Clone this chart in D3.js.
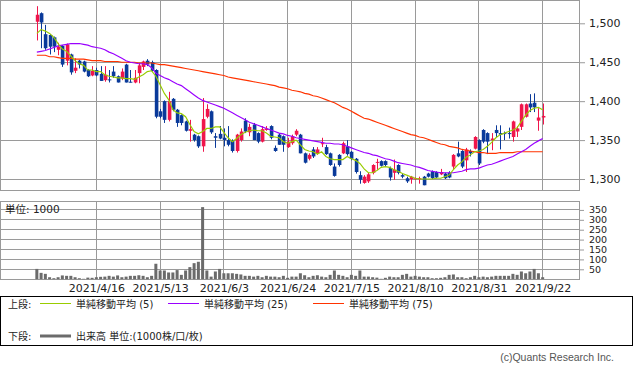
<!DOCTYPE html>
<html>
<head>
<meta charset="utf-8">
<script src="https://cdn.jsdelivr.net/npm/d3@7/dist/d3.min.js"></script>
<style>
body { margin: 0; background: #fff; }
svg text { font-family: "DejaVu Sans", "Noto Sans CJK JP", sans-serif; fill: #222; }
</style>
</head>
<body>
<script>
var swidth = 633,
    sheight = 374,
    plot = {left: 0.5, right: 579, top: 0.5, bottom: 190},
    volPlot = {top: 201, bottom: 279.2};

// trading days shown on the chart
var dates = [
  "2021/3/29","2021/3/30","2021/3/31","2021/4/1","2021/4/2","2021/4/5","2021/4/6","2021/4/7","2021/4/8","2021/4/9",
  "2021/4/12","2021/4/13","2021/4/14","2021/4/15","2021/4/16","2021/4/19","2021/4/20","2021/4/21","2021/4/22","2021/4/23",
  "2021/4/26","2021/4/27","2021/4/28","2021/4/30","2021/5/6","2021/5/7","2021/5/10","2021/5/11","2021/5/12","2021/5/13",
  "2021/5/14","2021/5/17","2021/5/18","2021/5/19","2021/5/20","2021/5/21","2021/5/24","2021/5/25","2021/5/26","2021/5/27",
  "2021/5/28","2021/5/31","2021/6/1","2021/6/2","2021/6/3","2021/6/4","2021/6/7","2021/6/8","2021/6/9","2021/6/10",
  "2021/6/11","2021/6/14","2021/6/15","2021/6/16","2021/6/17","2021/6/18","2021/6/21","2021/6/22","2021/6/23","2021/6/24",
  "2021/6/25","2021/6/28","2021/6/29","2021/6/30","2021/7/1","2021/7/2","2021/7/5","2021/7/6","2021/7/7","2021/7/8",
  "2021/7/9","2021/7/12","2021/7/13","2021/7/14","2021/7/15","2021/7/16","2021/7/19","2021/7/20","2021/7/21","2021/7/26",
  "2021/7/27","2021/7/28","2021/7/29","2021/7/30","2021/8/2","2021/8/3","2021/8/4","2021/8/5","2021/8/6","2021/8/10",
  "2021/8/11","2021/8/12","2021/8/13","2021/8/16","2021/8/17","2021/8/18","2021/8/19","2021/8/20","2021/8/23","2021/8/24",
  "2021/8/25","2021/8/26","2021/8/27","2021/8/30","2021/8/31","2021/9/1","2021/9/2","2021/9/3","2021/9/6","2021/9/7",
  "2021/9/8","2021/9/9","2021/9/10","2021/9/13","2021/9/14","2021/9/15","2021/9/16","2021/9/17","2021/9/21","2021/9/22"
];

var tickDates = ["2021/4/16", "2021/5/13", "2021/6/3", "2021/6/24", "2021/7/15", "2021/8/10", "2021/8/31", "2021/9/22"];
var priceTicks = [1300, 1350, 1400, 1450, 1500];
var volumeTicks = [50, 100, 150, 200, 250, 300, 350];

var open = [
  1502,1513,1486,1485,1482,1466,1471,1452,1460,1439, 1452,1451,1440,1433,1440,1435,1427,1428,1438,1432,
  1429,1447,1425,1424,1436,1444,1452,1450,1440,1387, 1400,1376,1403,1389,1382,1374,1362,1357,1355,1342,
  1380,1387,1355,1358,1353,1350,1350,1336,1350,1375, 1360,1370,1359,1348,1363,1368,1340,1357,1355,1341,
  1346,1357,1357,1333,1326,1338,1333,1345,1341,1333, 1316,1331,1333,1342,1335,1326,1305,1295,1297,1308,
  1321,1323,1323,1314,1308,1318,1305,1301,1300,1300, 1300,1303,1307,1310,1309,1306,1307,1308,1316,1333,
  1336,1324,1336,1339,1350,1363,1359,1350,1363,1359, 1359,1359,1354,1361,1367,1380,1397,1398,1375,1379
];
var high = [
  1522,1514,1498,1486,1483,1475,1472,1474,1461,1455, 1453,1452,1441,1445,1443,1445,1445,1440,1445,1433,
  1442,1448,1440,1440,1449,1452,1454,1452,1441,1390, 1401,1412,1404,1390,1383,1375,1376,1358,1356,1404,
  1396,1388,1359,1368,1365,1368,1351,1358,1365,1378, 1371,1372,1360,1368,1368,1369,1343,1359,1356,1353,
  1357,1364,1358,1334,1333,1341,1341,1353,1344,1334, 1320,1332,1348,1350,1336,1327,1310,1305,1308,1319,
  1326,1324,1324,1316,1325,1319,1307,1303,1304,1302, 1303,1304,1308,1311,1310,1313,1308,1310,1332,1348,
  1337,1340,1338,1355,1351,1364,1360,1359,1369,1369, 1361,1366,1375,1368,1397,1397,1409,1410,1391,1397
];
var low = [
  1478,1468,1466,1460,1463,1459,1444,1446,1434,1436, 1442,1437,1431,1432,1432,1426,1425,1424,1430,1424,
  1427,1424,1424,1423,1423,1440,1445,1438,1378,1378, 1372,1374,1387,1367,1369,1361,1348,1348,1340,1335,
  1378,1358,1340,1351,1342,1342,1334,1334,1348,1359, 1355,1350,1346,1347,1362,1351,1335,1344,1335,1340,
  1344,1355,1333,1320,1324,1327,1331,1341,1331,1317, 1303,1316,1332,1330,1324,1307,1294,1294,1295,1306,
  1312,1316,1316,1298,1299,1306,1301,1295,1294,1299, 1294,1292,1302,1300,1301,1305,1300,1301,1313,1328,
  1314,1309,1329,1338,1318,1346,1332,1337,1354,1338, 1350,1352,1348,1354,1363,1379,1386,1386,1362,1370
];
var close = [
  1511,1501,1468,1470,1470,1470,1447,1473,1437,1443, 1447,1438,1432,1439,1433,1426,1434,1427,1432,1424,
  1438,1424,1424,1430,1446,1451,1447,1439,1380,1380, 1376,1400,1389,1372,1372,1362,1364,1350,1342,1377,
  1390,1360,1353,1352,1350,1344,1336,1357,1361,1361, 1367,1350,1348,1364,1365,1353,1336,1344,1344,1348,
  1355,1362,1333,1321,1331,1329,1338,1346,1332,1318, 1304,1318,1346,1332,1326,1309,1299,1303,1306,1318,
  1322,1317,1318,1302,1312,1308,1303,1297,1303,1301, 1301,1292,1303,1301,1302,1309,1301,1302,1331,1329,
  1316,1338,1333,1354,1320,1348,1348,1352,1359,1357, 1358,1358,1374,1365,1396,1396,1392,1392,1379,1381
];

// volume, 1000 shares
var volume = [
  52,32,27,10,5,10,19,17,17,10, 5,2,8,7,10,12,13,17,13,19,
  10,13,17,17,20,17,10,17,78,44, 44,34,34,46,22,44,61,81,88,364,
  44,13,39,52,30,30,30,27,24,17, 17,13,17,10,17,13,13,10,17,7,
  13,13,30,20,10,17,20,13,10,22, 44,22,17,10,22,17,44,13,13,10,
  8,2,7,13,10,10,22,27,13,17, 13,10,10,5,5,7,10,22,24,10,
  10,5,10,17,10,13,10,13,17,17, 17,17,27,22,39,30,39,52,30,10
];

// moving averages as drawn on the chart
var ma5 = [
  1487,1492,1490,1487,1482,1474,1467,1464,1458,1452, 1448,1446,1440,1440,1438,1438,1434,1432,1431,1430,
  1430,1429,1429,1428,1431,1434,1438,1439,1432,1421, 1410,1402,1389,1385,1384,1380,1370,1361,1358,1361,
  1365,1365,1367,1367,1360,1353,1348,1352,1357,1360, 1362,1363,1362,1362,1359,1355,1354,1353,1348,1346,
  1348,1350,1344,1338,1336,1335,1332,1335,1329,1326, 1325,1325,1325,1329,1326,1324,1320,1313,1308,1308,
  1311,1315,1316,1315,1312,1310,1307,1305,1303,1301, 1300,1300,1300,1300,1301,1301,1303,1305,1312,1318,
  1322,1328,1331,1335,1336,1338,1342,1347,1353,1357, 1359,1361,1363,1366,1374,1382,1388,1391,1392,1389
];
var ma25 = [
  1463,1464,1465,1467,1469,1471,1472,1473,1474,1474, 1474,1473,1472,1470,1469,1468,1466,1463,1461,1458,
  1455,1452,1450,1449,1448,1448,1447,1443,1436,1433, 1430,1428,1425,1422,1420,1416,1412,1408,1404,1401,
  1399,1397,1395,1393,1391,1388,1385,1382,1379,1376, 1373,1371,1369,1367,1365,1363,1361,1359,1358,1356,
  1355,1353,1352,1351,1350,1349,1348,1347,1346,1346, 1345,1345,1344,1342,1340,1338,1336,1334,1333,1331,
  1330,1328,1326,1325,1323,1321,1320,1319,1318,1316, 1315,1313,1311,1310,1309,1308,1308,1308,1308,1309,
  1310,1312,1313,1313,1314,1316,1318,1319,1321,1323, 1325,1327,1329,1332,1335,1338,1342,1346,1349,1352
];
var ma75 = [
  1459,1459,1459,1457,1457,1456,1455,1455,1455,1454, 1454,1454,1453,1452,1452,1452,1451,1451,1451,1451,
  1450,1450,1450,1450,1449,1449,1449,1449,1448,1447, 1447,1446,1445,1444,1443,1442,1441,1440,1439,1438,
  1437,1436,1435,1434,1433,1431,1430,1429,1428,1427, 1426,1425,1424,1423,1422,1421,1420,1418,1417,1416,
  1414,1413,1412,1410,1409,1407,1406,1404,1402,1400, 1398,1395,1392,1390,1387,1384,1381,1378,1377,1375,
  1373,1371,1369,1367,1365,1363,1361,1359,1357,1356, 1354,1353,1351,1349,1347,1345,1344,1342,1341,1340,
  1338,1337,1336,1335,1334,1334,1333,1333,1333,1334, 1334,1334,1334,1335,1335,1335,1335,1335,1335,1335
];

var upColor = "#f0154b",
    downColor = "#0a3a9a",
    gridColor = "#9a9a9a";

var svg = d3.select("body").append("svg")
    .attr("width", swidth)
    .attr("height", sheight);

svg.append("rect")
    .attr("width", swidth)
    .attr("height", sheight)
    .attr("fill", "#fff");

var x = d3.scalePoint()
    .domain(dates)
    .range([plot.left, plot.right])
    .padding(8.55);

var y = d3.scaleLinear()
    .domain([1285.9, 1529.3])
    .range([plot.bottom, plot.top]);

var yv = d3.scaleLinear()
    .domain([0, 395])
    .range([volPlot.bottom, volPlot.top]);

// grid lines, both panels
var grid = svg.append("g")
    .attr("stroke", gridColor)
    .attr("stroke-width", 1)
    .attr("shape-rendering", "crispEdges");

grid.selectAll(".hp")
  .data(priceTicks)
  .enter().append("line")
    .attr("x1", plot.left).attr("x2", plot.right)
    .attr("y1", function(d) { return y(d); })
    .attr("y2", function(d) { return y(d); });

grid.selectAll(".hv")
  .data(volumeTicks)
  .enter().append("line")
    .attr("x1", plot.left).attr("x2", plot.right)
    .attr("y1", function(d) { return yv(d); })
    .attr("y2", function(d) { return yv(d); });

grid.selectAll(".vp")
  .data(tickDates)
  .enter().append("line")
    .attr("x1", function(d) { return x(d); })
    .attr("x2", function(d) { return x(d); })
    .attr("y1", plot.top).attr("y2", plot.bottom);

grid.selectAll(".vv")
  .data(tickDates)
  .enter().append("line")
    .attr("x1", function(d) { return x(d); })
    .attr("x2", function(d) { return x(d); })
    .attr("y1", volPlot.top).attr("y2", volPlot.bottom);

grid.append("rect")
    .attr("x", plot.left).attr("y", plot.top)
    .attr("width", plot.right - plot.left)
    .attr("height", plot.bottom - plot.top)
    .attr("fill", "none");

grid.append("rect")
    .attr("x", plot.left).attr("y", volPlot.top)
    .attr("width", plot.right - plot.left)
    .attr("height", volPlot.bottom - volPlot.top)
    .attr("fill", "none");

// volume bars
svg.append("g")
  .selectAll("rect")
  .data(volume)
  .enter().append("rect")
    .attr("x", function(d, i) { return x(dates[i]) - 1.5; })
    .attr("width", 3)
    .attr("y", function(d) { return yv(d); })
    .attr("height", function(d) { return yv(0) - yv(d); })
    .attr("fill", "#6b6b6b");

svg.append("text")
    .attr("x", 5)
    .attr("y", 212.5)
    .attr("font-size", "10.5px")
    .text("単位: 1000");

// candles
var candles = svg.append("g")
  .selectAll("g")
  .data(dates)
  .enter().append("g");

candles.append("line")
    .attr("x1", function(d) { return Math.round(x(d)) + 0.5; })
    .attr("x2", function(d) { return Math.round(x(d)) + 0.5; })
    .attr("y1", function(d, i) { return y(high[i]); })
    .attr("y2", function(d, i) { return y(low[i]); })
    .attr("stroke", function(d, i) { return close[i] >= open[i] ? upColor : downColor; })
    .attr("stroke-width", 1);

candles.append("rect")
    .attr("x", function(d) { return Math.round(x(d)) - 1.2; })
    .attr("width", 3.6)
    .attr("y", function(d, i) { return y(Math.max(open[i], close[i])); })
    .attr("height", function(d, i) { return Math.max(1, Math.abs(y(open[i]) - y(close[i]))); })
    .attr("fill", function(d, i) { return close[i] >= open[i] ? upColor : downColor; });

// moving average lines
var line = d3.line()
    .x(function(d, i) { return x(dates[i]); })
    .y(function(d) { return y(d); });

[[ma75, "#ff3300"], [ma25, "#9a00ff"], [ma5, "#99cc00"]].forEach(function(s) {
  svg.append("path")
      .datum(s[0])
      .attr("d", line)
      .attr("fill", "none")
      .attr("stroke", s[1])
      .attr("stroke-width", 1.15);
});

// axes
var priceAxis = svg.append("g")
    .attr("transform", "translate(" + plot.right + ",0)")
    .call(d3.axisRight(y).tickValues(priceTicks).tickFormat(d3.format(",")).tickSize(6).tickPadding(4));
priceAxis.select(".domain").remove();
priceAxis.selectAll("line").attr("stroke", gridColor);
priceAxis.selectAll("text").attr("font-size", "11px").attr("font-family", null);

var volAxis = svg.append("g")
    .attr("transform", "translate(" + plot.right + ",0)")
    .call(d3.axisRight(yv).tickValues(volumeTicks).tickSize(5).tickPadding(5));
volAxis.select(".domain").remove();
volAxis.selectAll("line").attr("stroke", gridColor);
volAxis.selectAll("text").attr("font-size", "9.5px").attr("font-family", null);

var dateAxis = svg.append("g")
    .attr("transform", "translate(0," + volPlot.bottom + ")")
    .call(d3.axisBottom(x).tickValues(tickDates).tickSize(0).tickPadding(5));
dateAxis.select(".domain").remove();
dateAxis.selectAll("text").attr("font-size", "11px").attr("font-family", null);

// legend box
var legend = svg.append("g");

legend.append("rect")
    .attr("x", 0.5).attr("y", 296.5)
    .attr("width", 632).attr("height", 49)
    .attr("fill", "none")
    .attr("stroke", "#000");

legend.append("text").attr("x", 8).attr("y", 308).attr("font-size", "10px").text("上段:");
legend.append("text").attr("x", 8).attr("y", 340).attr("font-size", "10px").text("下段:");

var legendItems = [
  {x: 40, color: "#99cc00", label: "単純移動平均 (5)"},
  {x: 168, color: "#9a00ff", label: "単純移動平均 (25)"},
  {x: 313, color: "#ff3300", label: "単純移動平均 (75)"}
];

legendItems.forEach(function(d) {
  legend.append("line")
      .attr("x1", d.x).attr("x2", d.x + 31)
      .attr("y1", 303.5).attr("y2", 303.5)
      .attr("stroke", d.color);
  legend.append("text")
      .attr("x", d.x + 36).attr("y", 308)
      .attr("font-size", "10px")
      .text(d.label);
});

legend.append("line")
    .attr("x1", 40).attr("x2", 71)
    .attr("y1", 336).attr("y2", 336)
    .attr("stroke", "#6b6b6b")
    .attr("stroke-width", 3);
legend.append("text")
    .attr("x", 76).attr("y", 340)
    .attr("font-size", "10px")
    .text("出来高 単位:(1000株/口/枚)");

svg.append("text")
    .attr("x", 614).attr("y", 361)
    .attr("text-anchor", "end")
    .attr("font-size", "10.5px")
    .style("font-family", "'Liberation Sans', sans-serif")
    .style("fill", "#555")
    .text("(c)Quants Research Inc.");
</script>
</body>
</html>
